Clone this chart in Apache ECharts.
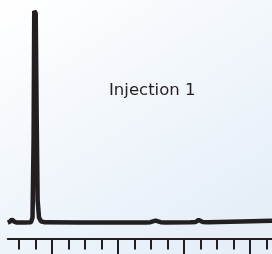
<!DOCTYPE html>
<html>
<head>
<meta charset="UTF-8">
<title>Injection 1</title>
<script src="https://cdn.jsdelivr.net/npm/echarts@6/dist/echarts.min.js"></script>
<style>
  html, body { margin: 0; padding: 0; }
  #main { width: 272px; height: 254px; }
</style>
</head>
<body>
<div id="main"></div>
<script>
  // retention time (min) and detector signal
  const times = [0.330, 0.361, 0.391, 0.429, 0.467, 0.589, 0.682, 0.705, 0.721, 0.731, 0.753, 0.768, 0.782, 0.803, 0.833, 0.893,
                 1.426, 2.416, 2.492, 2.569, 2.645, 2.721, 3.101, 3.178, 3.223, 3.284, 3.360, 3.863, 4.333]
  const signal = [1.6, 2.0, 3.0, 2.0, 1.6, 1.6, 1.7, 4.0, 40, 100, 99, 50, 12, 4.0, 2.2, 1.7,
                  1.65, 1.65, 1.8, 2.5, 1.8, 1.65, 1.7, 1.9, 2.8, 1.9, 1.75, 2.1, 2.4]
  const label = 'Injection 1'

  // time axis ticks: minor every 0.25 min, major every 1 min
  const minorStep = 0.25
  const majorStep = 1

  const ink = '#231f20'
  const W = 272
  const pxPerMin = 66
  const pxAt1 = 52

  // all grids share the same time -> pixel scale, only the visible range differs
  function gridFor(min, max, top, bottom) {
    return {
      left: pxAt1 + (min - 1) * pxPerMin,
      right: W - (pxAt1 + (max - 1) * pxPerMin),
      top: top,
      bottom: bottom,
      outerBoundsMode: 'none'
    }
  }

  const tMin = 0.33
  const tMax = 1 + (W - pxAt1) / pxPerMin

  const myChart = echarts.init(document.getElementById('main'))

  const option = {
    animation: false,
    backgroundColor: {
      type: 'linear', x: 0, y: 0, x2: 0.6, y2: 1,
      colorStops: [{ offset: 0, color: '#ffffff' }, { offset: 1, color: '#e6eff8' }]
    },
    title: {
      text: label,
      left: 109,
      top: 82,
      padding: 0,
      textStyle: { fontFamily: 'DejaVu Sans', fontSize: 16.5, fontWeight: 'normal', color: ink }
    },
    grid: [
      gridFor(tMin, tMax, 11, 28),
      gridFor(0.5, 4.25, 200, 15.5),
      gridFor(1, 4, 200, 15.5)
    ],
    xAxis: [
      {
        gridIndex: 0, type: 'value', min: tMin, max: tMax,
        offset: 12.5,
        axisLine: { show: true, onZero: false, lineStyle: { color: ink, width: 2 } },
        axisTick: { show: false }, axisLabel: { show: false }, splitLine: { show: false }
      },
      {
        gridIndex: 1, type: 'value', min: 0.5, max: 4.25, interval: minorStep,
        axisLine: { show: false },
        axisTick: { show: true, inside: false, length: 11, lineStyle: { color: ink, width: 2 } },
        axisLabel: { show: false }, splitLine: { show: false }
      },
      {
        gridIndex: 2, type: 'value', min: 1, max: 4, interval: majorStep,
        axisLine: { show: false },
        axisTick: { show: true, inside: false, length: 18, lineStyle: { color: ink, width: 2 } },
        axisLabel: { show: false }, splitLine: { show: false }
      }
    ],
    yAxis: [
      { gridIndex: 0, type: 'value', min: 0, max: 100, show: false },
      { gridIndex: 1, type: 'value', show: false },
      { gridIndex: 2, type: 'value', show: false }
    ],
    series: [
      {
        type: 'line',
        xAxisIndex: 0,
        yAxisIndex: 0,
        symbol: 'none',
        clip: false,
        lineStyle: { color: ink, width: 4.5, join: 'bevel' },
        data: times.map((t, i) => [t, signal[i]])
      }
    ]
  }

  myChart.setOption(option)
</script>
</body>
</html>
